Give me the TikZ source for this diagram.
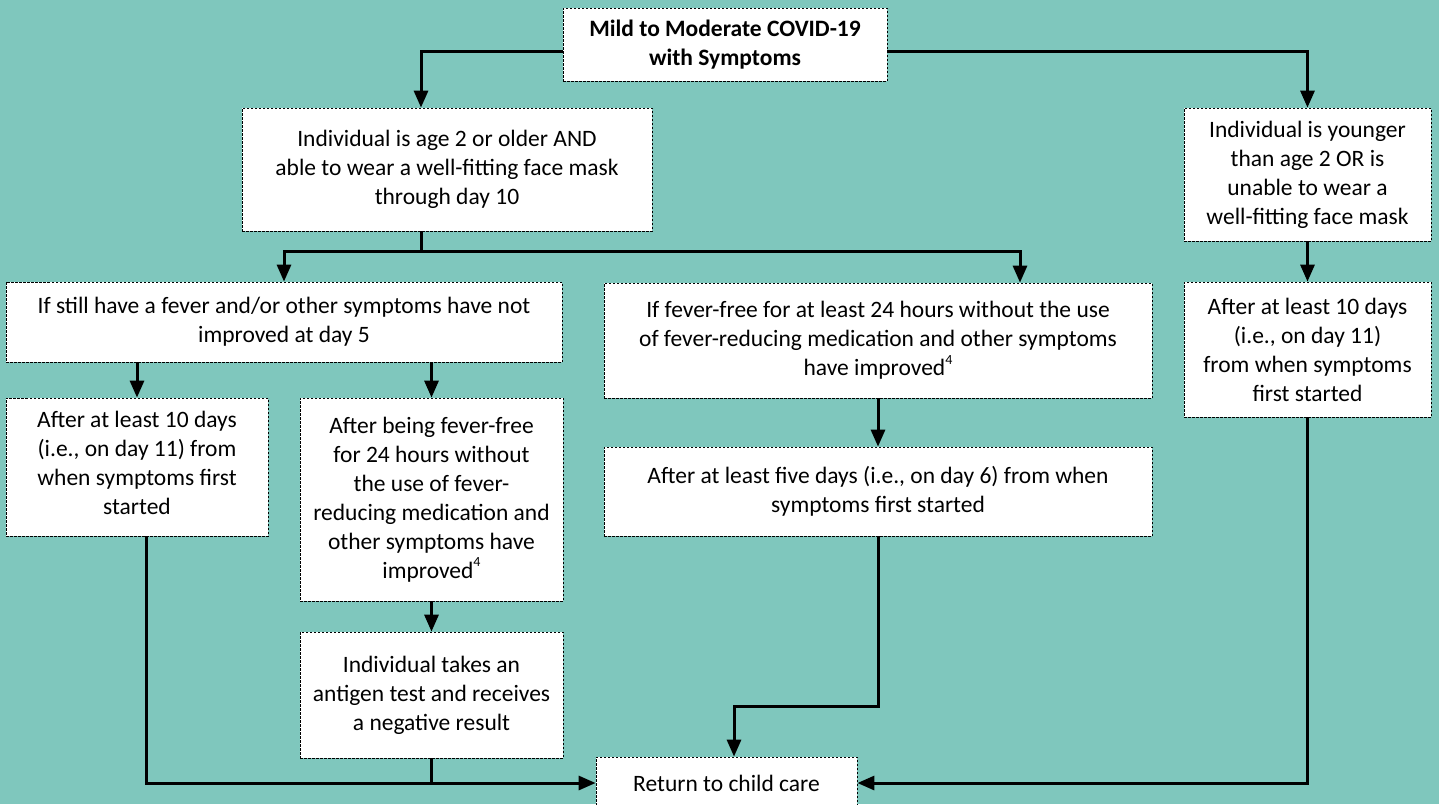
\documentclass[tikz,border=0pt]{standalone}
\usepackage{fontspec}
\setmainfont{Carlito}
\usetikzlibrary{arrows.meta}
\definecolor{bg}{RGB}{127,199,189}
\newcommand{\fnsup}{\raisebox{0.5em}{\fontsize{14}{14}\selectfont 4}}
\begin{document}
\begin{tikzpicture}[x=1pt,y=-1pt,
  box/.style={draw=black, line width=0.8pt, dash pattern=on 2.5pt off 1.5pt,
    fill=white, align=center, inner sep=0pt,
    font=\fontsize{23.5}{29}\selectfont},
  arr/.style={line width=3pt, -{Triangle[length=17pt,width=14pt]}},
  ln/.style={line width=3pt}]
\fill[bg] (0,0) rectangle (1439,804);
\useasboundingbox (0,0) rectangle (1439,804);

\node[box, minimum width=324pt, minimum height=73pt] (top) at (725,44.5)
  {\bfseries Mild to Moderate COVID-19\\\bfseries with Symptoms};
\node[box, minimum width=410pt, minimum height=123pt] (b2) at (447,169.5)
  {Individual is age 2 or older AND\\able to wear a well-fitting face mask\\through day 10};
\node[box, minimum width=247pt, minimum height=133pt] (bR) at (1307.5,174.5)
  {Individual is younger\\than age 2 OR is\\unable to wear a\\well-fitting face mask};
\node[box, minimum width=556pt, minimum height=80pt] (b3) at (284,322)
  {If still have a fever and/or other symptoms have not\\improved at day 5};
\node[box, minimum width=548pt, minimum height=115pt] (b8) at (878,340.5)
  {If fever-free for at least 24 hours without the use\\of fever-reducing medication and other symptoms\\have improved\fnsup};
\node[box, minimum width=247pt, minimum height=135pt] (b10) at (1307.5,349.5)
  {After at least 10 days\\(i.e., on day 11)\\from when symptoms\\first started};
\node[box, minimum width=262pt, minimum height=138pt, text depth=8pt] (b5) at (137,467)
  {After at least 10 days\\(i.e., on day 11) from\\when symptoms first\\started};
\node[box, minimum width=263pt, minimum height=203pt] (b6) at (431.5,499.5)
  {After being fever-free\\for 24 hours without\\the use of fever-\\reducing medication and\\other symptoms have\\improved\fnsup};
\node[box, minimum width=548pt, minimum height=89pt] (b9) at (878,491.5)
  {After at least five days (i.e., on day 6) from when\\symptoms first started};
\node[box, minimum width=263pt, minimum height=126pt] (b7) at (431.5,695)
  {Individual takes an\\antigen test and receives\\a negative result};
\node[box, minimum width=261pt, minimum height=52pt] (bF) at (726.5,783)
  {Return to child care};

\draw[arr] ([yshift=-6.5pt]top.west) -| ([xshift=-26pt]b2.north);
\draw[arr] ([yshift=-6.5pt]top.east) -| (bR.north);

\coordinate (j1) at (421,251);
\draw[ln] ([xshift=-26pt]b2.south) -- (j1);
\draw[arr] (j1) -| (b3.north);
\draw[arr] (j1) -| ([xshift=142pt]b8.north);

\draw[arr] (bR.south) -- (b10.north);
\draw[arr] (b3.south -| b5.north) -- (b5.north);
\draw[arr] (b3.south -| b6.north) -- (b6.north);
\draw[arr] (b6.south) -- (b7.north);
\draw[arr] (b8.south) -- (b9.north);

\draw[arr] ([xshift=9pt]b5.south) |- (bF.west);
\draw[ln] (b7.south) -- (b7.south |- bF.west);
\coordinate (k) at (734,706);
\draw[arr] (b9.south) |- (k) -- (k |- bF.north);
\draw[arr] (b10.south) |- (bF.east);
\end{tikzpicture}
\end{document}
